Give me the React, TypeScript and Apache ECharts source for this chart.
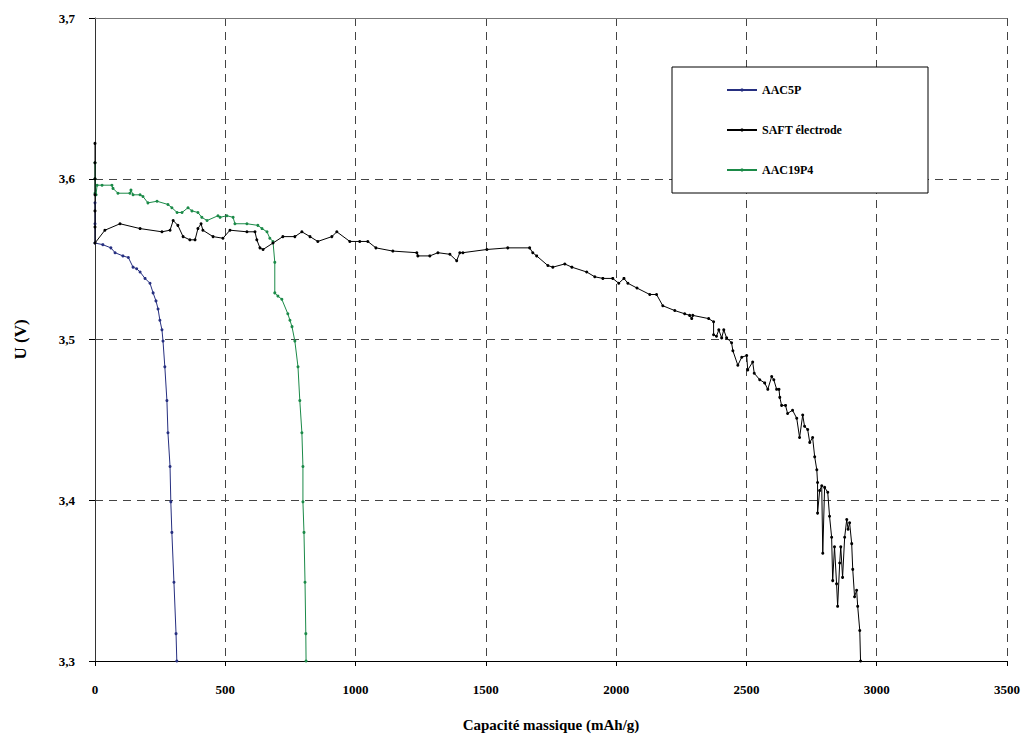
import React, { useEffect, useRef } from "react";
import * as echarts from "echarts";

const xTicks = [0, 500, 1000, 1500, 2000, 2500, 3000, 3500];
const yTicks = [3.3, 3.4, 3.5, 3.6, 3.7];
const seriesNames = ["AAC5P", "SAFT électrode", "AAC19P4"];

const aac5pX = [0, 0, 0, 30, 61, 77, 107, 128, 146, 160, 173, 192, 211, 223, 234, 242, 249, 257, 261, 268, 276, 280, 288, 291, 295, 303, 311, 314];
const aac5pU = [3.585, 3.572, 3.56, 3.559, 3.557, 3.554, 3.552, 3.551, 3.545, 3.544, 3.542, 3.538, 3.535, 3.529, 3.524, 3.519, 3.512, 3.506, 3.499, 3.483, 3.462, 3.442, 3.421, 3.399, 3.38, 3.349, 3.317, 3.3];

const saftX = [0, 0, 0, 0, 0, 0, 0, 38, 96, 173, 257, 288, 300, 318, 338, 364, 384, 395, 407, 414, 453, 491, 518, 583, 614, 621, 633, 645, 683, 721, 767, 794, 825, 855, 909, 928, 978, 1016, 1047, 1078, 1143, 1235, 1239, 1285, 1316, 1362, 1388, 1400, 1412, 1504, 1584, 1668, 1680, 1695, 1738, 1757, 1803, 1830, 1887, 1918, 1949, 1987, 2010, 2030, 2045, 2080, 2129, 2155, 2179, 2225, 2263, 2282, 2290, 2294, 2355, 2374, 2374, 2385, 2394, 2405, 2413, 2424, 2443, 2448, 2467, 2482, 2501, 2505, 2524, 2530, 2551, 2570, 2582, 2597, 2605, 2616, 2625, 2628, 2635, 2650, 2658, 2677, 2693, 2704, 2716, 2723, 2735, 2743, 2754, 2762, 2770, 2773, 2773, 2781, 2789, 2793, 2800, 2812, 2819, 2827, 2831, 2838, 2846, 2850, 2858, 2862, 2869, 2877, 2885, 2890, 2896, 2904, 2908, 2915, 2923, 2927, 2935, 2938];
const saftU = [3.622, 3.61, 3.6, 3.59, 3.58, 3.57, 3.56, 3.568, 3.572, 3.569, 3.567, 3.568, 3.574, 3.571, 3.564, 3.562, 3.562, 3.569, 3.572, 3.568, 3.564, 3.563, 3.568, 3.567, 3.567, 3.562, 3.557, 3.556, 3.56, 3.564, 3.564, 3.567, 3.564, 3.561, 3.564, 3.567, 3.561, 3.561, 3.561, 3.557, 3.555, 3.554, 3.552, 3.552, 3.554, 3.553, 3.549, 3.554, 3.554, 3.556, 3.557, 3.557, 3.554, 3.552, 3.546, 3.545, 3.547, 3.545, 3.542, 3.539, 3.538, 3.538, 3.535, 3.538, 3.535, 3.532, 3.528, 3.528, 3.521, 3.518, 3.516, 3.515, 3.513, 3.515, 3.513, 3.511, 3.503, 3.502, 3.506, 3.501, 3.506, 3.501, 3.498, 3.493, 3.484, 3.489, 3.49, 3.481, 3.486, 3.479, 3.475, 3.473, 3.469, 3.477, 3.475, 3.469, 3.469, 3.464, 3.459, 3.459, 3.454, 3.456, 3.451, 3.439, 3.453, 3.446, 3.444, 3.436, 3.439, 3.427, 3.419, 3.411, 3.392, 3.406, 3.409, 3.367, 3.408, 3.405, 3.39, 3.377, 3.35, 3.371, 3.348, 3.334, 3.361, 3.371, 3.352, 3.377, 3.388, 3.382, 3.386, 3.373, 3.357, 3.34, 3.344, 3.334, 3.319, 3.3];

const aac19X = [0, 0, 0, 4, 8, 27, 65, 69, 88, 134, 138, 146, 173, 184, 203, 238, 280, 295, 315, 334, 357, 372, 395, 410, 430, 472, 480, 506, 530, 537, 583, 625, 641, 660, 671, 683, 690, 690, 702, 717, 740, 748, 756, 767, 779, 786, 794, 798, 798, 802, 806, 809, 810];
const aac19U = [3.61, 3.6, 3.591, 3.59, 3.596, 3.596, 3.596, 3.594, 3.591, 3.591, 3.593, 3.59, 3.59, 3.589, 3.585, 3.586, 3.584, 3.582, 3.579, 3.579, 3.582, 3.58, 3.579, 3.576, 3.574, 3.577, 3.576, 3.577, 3.576, 3.572, 3.572, 3.571, 3.569, 3.567, 3.563, 3.561, 3.548, 3.529, 3.527, 3.525, 3.516, 3.512, 3.508, 3.499, 3.483, 3.462, 3.442, 3.421, 3.399, 3.38, 3.349, 3.317, 3.3];

const colors = ["#262f80", "#000000", "#1b8a48"];

const zip = (xs: number[], ys: number[]) => xs.map((x, i) => [x, ys[i]]);

const FONT = "Liberation Serif";

export default function App() {
  const ref = useRef<HTMLDivElement>(null);
  useEffect(() => {
    if (!ref.current) return;
    const chart = echarts.init(ref.current, null, { renderer: "svg" });
    const seriesData = [zip(aac5pX, aac5pU), zip(saftX, saftU), zip(aac19X, aac19U)];
    chart.setOption({
      animation: false,
      backgroundColor: "#ffffff",
      grid: { left: 95, right: 20, top: 18, bottom: 79, containLabel: false },
      xAxis: [
        {
          type: "value",
          min: xTicks[0],
          max: xTicks[xTicks.length - 1],
          interval: 500,
          name: "Capacité massique (mAh/g)",
          nameLocation: "middle",
          nameGap: 56,
          nameTextStyle: { fontFamily: FONT, fontWeight: "bold", fontSize: 15, color: "#000" },
          axisLine: { show: true, onZero: false, lineStyle: { color: "#000", width: 1 } },
          axisTick: { show: true, length: 5, lineStyle: { color: "#000" } },
          axisLabel: {
            margin: 22,
            fontFamily: FONT,
            fontWeight: "bold",
            fontSize: 13,
            color: "#000",
            formatter: (v: number) => String(v),
          },
          splitLine: { show: true, lineStyle: { color: "#444", type: [8, 6], width: 1 } },
        },
        {
          type: "value",
          position: "top",
          min: xTicks[0],
          max: xTicks[xTicks.length - 1],
          interval: 500,
          axisLine: { show: true, lineStyle: { color: "#777", width: 1 } },
          axisTick: { show: false },
          axisLabel: { show: false },
          splitLine: { show: false },
        },
      ],
      yAxis: {
        type: "value",
        min: yTicks[0],
        max: yTicks[yTicks.length - 1],
        interval: 0.1,
        name: "U (V)",
        nameLocation: "middle",
        nameGap: 66,
        nameTextStyle: { fontFamily: FONT, fontWeight: "bold", fontSize: 17, color: "#000" },
        axisLine: { show: true, onZero: false, lineStyle: { color: "#333", width: 1 } },
        axisTick: { show: true, length: 6, lineStyle: { color: "#000" } },
        axisLabel: {
          margin: 20,
          fontFamily: FONT,
          fontWeight: "bold",
          fontSize: 13,
          color: "#000",
          formatter: (v: number) => v.toFixed(1).replace(".", ","),
        },
        splitLine: { show: true, lineStyle: { color: "#444", type: [8, 6], width: 1 } },
      },
      legend: {
        show: true,
        orient: "vertical",
        left: 721,
        top: 79,
        itemWidth: 30,
        itemHeight: 4,
        itemGap: 28,
        z: 10,
        textStyle: { fontFamily: FONT, fontWeight: "bold", fontSize: 12, color: "#000" },
        data: seriesNames,
      },
      graphic: [
        {
          type: "rect",
          z: 5,
          shape: { x: 672, y: 67, width: 256, height: 126 },
          style: { fill: "#ffffff", stroke: "#000", lineWidth: 1 },
        },
      ],
      series: seriesNames.map((name, i) => ({
        name,
        type: "line",
        xAxisIndex: 0,
        data: seriesData[i],
        color: colors[i],
        symbol: "circle",
        symbolSize: 3,
        showSymbol: true,
        lineStyle: { width: 1, color: colors[i] },
        itemStyle: { color: colors[i] },
        z: i === 1 ? 3 : 2,
      })),
    });
    return () => chart.dispose();
  }, []);
  return (
    <div
      ref={ref}
      style={{ position: "absolute", left: 0, top: 0, width: 1027, height: 740 }}
    />
  );
}
